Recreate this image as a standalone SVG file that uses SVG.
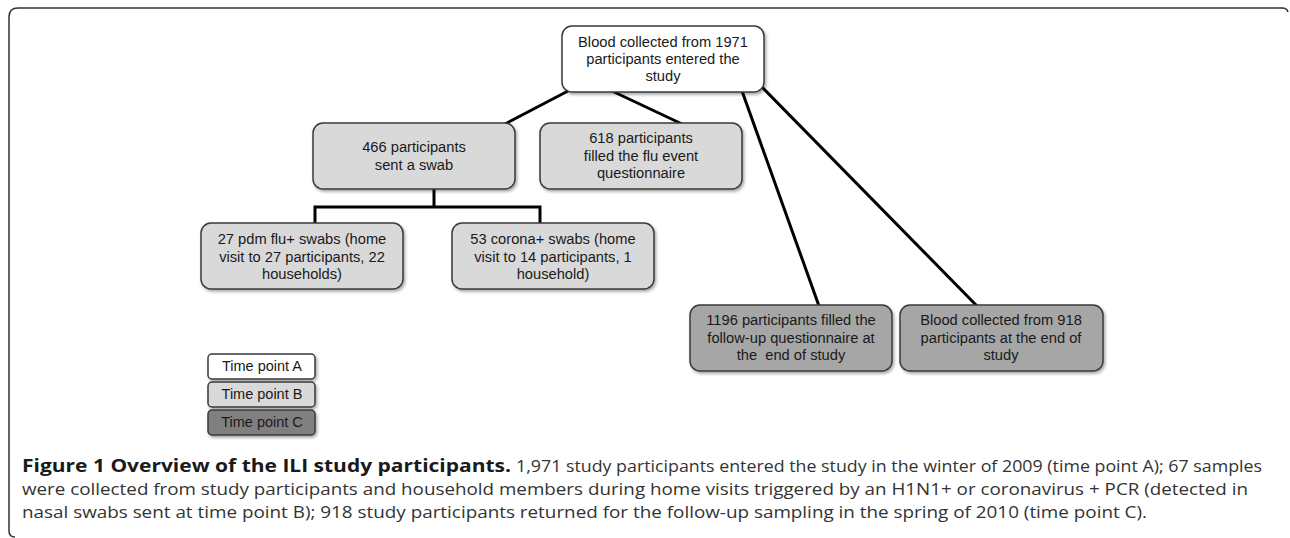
<svg xmlns="http://www.w3.org/2000/svg" width="1290" height="538" viewBox="0 0 1290 538">
<defs>
<filter id="sh" x="-10%" y="-10%" width="130%" height="140%">
<feDropShadow dx="1.5" dy="2" stdDeviation="1.5" flood-color="#000" flood-opacity="0.35"/>
</filter>
<style>
.box{stroke:#3a3a3a;stroke-width:1.5;filter:url(#sh)}
.a{fill:#ffffff}
.b{fill:#d9d9d9}
.c{fill:#a6a6a6}
.lc{fill:#808080}
.t{font-family:"Liberation Sans",Arial,sans-serif;font-size:14.7px;fill:#1a1a1a;text-anchor:middle}
.lt{font-family:"Liberation Sans",Arial,sans-serif;font-size:14.5px;fill:#1a1a1a;text-anchor:middle}
.con{stroke:#000;stroke-width:3;fill:none}
.cap{font-family:"Open Sans","Noto Sans",sans-serif;font-size:17px;fill:#333}
.capb{font-family:"Open Sans","Noto Sans",sans-serif;font-size:17px;font-weight:bold;fill:#1a1a1a}
</style>
</defs>
<rect width="1290" height="538" fill="#fff"/>
<path d="M 15 537 Q 9 537 9 531 L 9 17 Q 9 8 18 8 L 1282 8 Q 1287 8 1288 12" fill="none" stroke="#333" stroke-width="1.5"/>

<g id="connectors">
<line class="con" x1="568" y1="91" x2="505" y2="124"/>
<line class="con" x1="612" y1="91" x2="682" y2="124"/>
<line class="con" x1="742" y1="91" x2="819" y2="306"/>
<line class="con" x1="762" y1="87" x2="977" y2="306"/>
<polyline class="con" points="434,189 434,207"/>
<polyline class="con" points="315,224 315,207 540,207 540,224"/>
</g>

<g id="n-top">
<rect class="box a" x="562" y="26" width="202" height="66" rx="10"/>
<text class="t" x="663" y="47">Blood collected from 1971</text>
<text class="t" x="663" y="64">participants entered the</text>
<text class="t" x="663" y="81">study</text>
</g>

<g id="n-466">
<rect class="box b" x="313" y="123" width="202" height="66" rx="10"/>
<text class="t" x="414" y="152">466 participants</text>
<text class="t" x="414" y="170">sent a swab</text>
</g>

<g id="n-618">
<rect class="box b" x="540" y="123" width="202" height="66" rx="10"/>
<text class="t" x="641" y="143">618 participants</text>
<text class="t" x="641" y="161">filled the flu event</text>
<text class="t" x="641" y="178">questionnaire</text>
</g>

<g id="n-27">
<rect class="box b" x="201" y="223" width="202" height="66" rx="10"/>
<text class="t" x="302" y="244">27 pdm flu+ swabs (home</text>
<text class="t" x="302" y="262">visit to 27 participants, 22</text>
<text class="t" x="302" y="279">households)</text>
</g>

<g id="n-53">
<rect class="box b" x="452" y="223" width="202" height="66" rx="10"/>
<text class="t" x="553" y="244">53 corona+ swabs (home</text>
<text class="t" x="553" y="262">visit to 14 participants, 1</text>
<text class="t" x="553" y="279">household)</text>
</g>

<g id="n-1196">
<rect class="box c" x="690" y="305" width="202" height="66" rx="10"/>
<text class="t" x="791" y="325">1196 participants filled the</text>
<text class="t" x="791" y="343">follow-up questionnaire at</text>
<text class="t" x="791" y="360">the&#160; end of study</text>
</g>

<g id="n-918">
<rect class="box c" x="900" y="305" width="203" height="66" rx="10"/>
<text class="t" x="1001" y="325">Blood collected from 918</text>
<text class="t" x="1001" y="343">participants at the end of</text>
<text class="t" x="1001" y="360">study</text>
</g>

<g id="legend">
<g id="leg-a">
<rect class="box a" x="208" y="354" width="107" height="25" rx="4"/>
<text class="lt" x="262" y="371">Time point A</text>
</g>
<g id="leg-b">
<rect class="box b" x="208" y="382" width="107" height="25" rx="4"/>
<text class="lt" x="262" y="399">Time point B</text>
</g>
<g id="leg-c">
<rect class="box lc" x="208" y="410" width="107" height="25" rx="4"/>
<text class="lt" x="262" y="427">Time point C</text>
</g>
</g>

<g id="caption">
<text class="capb" x="22" y="472" textLength="489" lengthAdjust="spacingAndGlyphs">Figure 1 Overview of the ILI study participants.</text>
<text class="cap" x="516" y="472" textLength="746" lengthAdjust="spacingAndGlyphs">1,971 study participants entered the study in the winter of 2009 (time point A); 67 samples</text>
<text class="cap" x="22" y="495" textLength="1226" lengthAdjust="spacingAndGlyphs">were collected from study participants and household members during home visits triggered by an H1N1+ or coronavirus + PCR (detected in</text>
<text class="cap" x="22" y="518" textLength="1125" lengthAdjust="spacingAndGlyphs">nasal swabs sent at time point B); 918 study participants returned for the follow-up sampling in the spring of 2010 (time point C).</text>
</g>
</svg>
